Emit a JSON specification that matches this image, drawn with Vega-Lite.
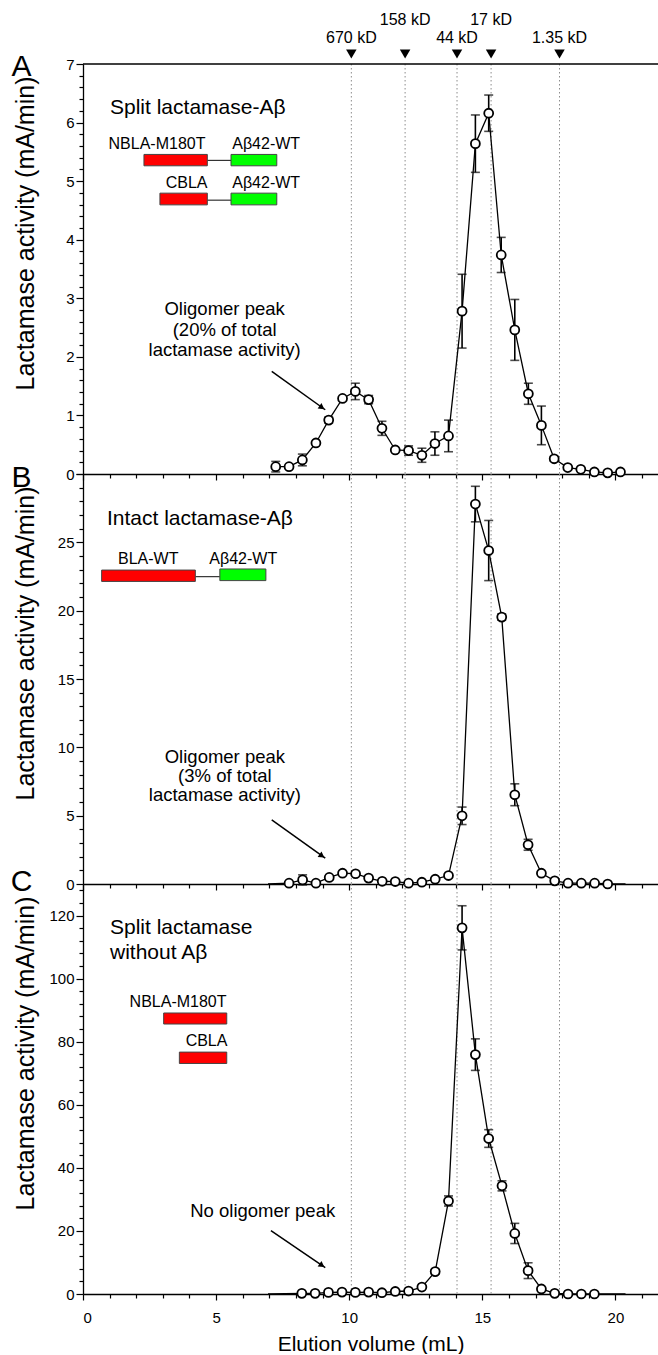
{
"$schema": "https://vega.github.io/schema/vega-lite/v6.json",
"background": "white",
"padding": {"left": 10, "top": 11, "right": 0, "bottom": 0},
"spacing": 0,
"bounds": "flush",
"config": {
  "font": "Liberation Sans",
  "view": {"stroke": null},
  "axis": {"domainColor": "black", "tickColor": "black", "labelColor": "black", "titleColor": "black", "domainWidth": 1.3, "tickWidth": 1.2, "labelFontSize": 15, "titleFontWeight": "normal", "grid": false, "labelOverlap": false, "labelFont": "Liberation Sans", "titleFont": "Liberation Sans"},
  "text": {"color": "black", "font": "Liberation Sans"}
},
"datasets": {
  "mw": [
    {"x": 10.08, "label": "670 kD", "ly": 7.359},
    {"x": 12.1, "label": "158 kD", "ly": 7.667},
    {"x": 14.05, "label": "44 kD", "ly": 7.359},
    {"x": 15.33, "label": "17 kD", "ly": 7.667},
    {"x": 17.9, "label": "1.35 kD", "ly": 7.359}
  ],
  "a": [
    {"x": 7.24, "y": 0.125, "lo": 0.035, "hi": 0.215},
    {"x": 7.74, "y": 0.125},
    {"x": 8.24, "y": 0.24, "lo": 0.14, "hi": 0.34},
    {"x": 8.75, "y": 0.53},
    {"x": 9.23, "y": 0.92, "lo": 0.87, "hi": 0.97},
    {"x": 9.75, "y": 1.29},
    {"x": 10.23, "y": 1.41, "lo": 1.27, "hi": 1.55},
    {"x": 10.73, "y": 1.27, "lo": 1.2, "hi": 1.34},
    {"x": 11.23, "y": 0.78, "lo": 0.66, "hi": 0.9},
    {"x": 11.73, "y": 0.41},
    {"x": 12.23, "y": 0.4, "lo": 0.32, "hi": 0.48},
    {"x": 12.73, "y": 0.32, "lo": 0.2, "hi": 0.44},
    {"x": 13.22, "y": 0.52, "lo": 0.32, "hi": 0.72},
    {"x": 13.73, "y": 0.65, "lo": 0.38, "hi": 0.92},
    {"x": 14.24, "y": 2.78, "lo": 2.15, "hi": 3.41},
    {"x": 14.74, "y": 5.64, "lo": 5.15, "hi": 6.13},
    {"x": 15.24, "y": 6.16, "lo": 5.85, "hi": 6.47},
    {"x": 15.71, "y": 3.74, "lo": 3.44, "hi": 4.04},
    {"x": 16.22, "y": 2.46, "lo": 1.94, "hi": 2.98},
    {"x": 16.73, "y": 1.37, "lo": 1.19, "hi": 1.55},
    {"x": 17.22, "y": 0.83, "lo": 0.5, "hi": 1.16},
    {"x": 17.7, "y": 0.26, "lo": 0.22, "hi": 0.3},
    {"x": 18.21, "y": 0.11},
    {"x": 18.7, "y": 0.08},
    {"x": 19.21, "y": 0.035},
    {"x": 19.71, "y": 0.02},
    {"x": 20.19, "y": 0.035}
  ],
  "b": [
    {"x": 6.95, "y": 0, "end": true},
    {"x": 7.74, "y": 0.06},
    {"x": 8.25, "y": 0.3, "lo": -0.07, "hi": 0.67},
    {"x": 8.75, "y": 0.06},
    {"x": 9.25, "y": 0.48},
    {"x": 9.75, "y": 0.79},
    {"x": 10.24, "y": 0.75},
    {"x": 10.73, "y": 0.43},
    {"x": 11.24, "y": 0.2},
    {"x": 11.73, "y": 0.18},
    {"x": 12.23, "y": 0.06},
    {"x": 12.73, "y": 0.13},
    {"x": 13.23, "y": 0.35},
    {"x": 13.73, "y": 0.62},
    {"x": 14.24, "y": 4.99, "lo": 4.35, "hi": 5.63},
    {"x": 14.74, "y": 27.8, "lo": 26.5, "hi": 29.1},
    {"x": 15.24, "y": 24.4, "lo": 22.2, "hi": 26.6},
    {"x": 15.73, "y": 19.53, "lo": 19.3, "hi": 19.76},
    {"x": 16.22, "y": 6.53, "lo": 5.73, "hi": 7.33},
    {"x": 16.72, "y": 2.87, "lo": 2.47, "hi": 3.27},
    {"x": 17.22, "y": 0.79},
    {"x": 17.72, "y": 0.23},
    {"x": 18.22, "y": 0.06},
    {"x": 18.72, "y": 0.06},
    {"x": 19.22, "y": 0.06},
    {"x": 19.71, "y": 0},
    {"x": 20.38, "y": 0, "end": true}
  ],
  "c": [
    {"x": 6.95, "y": 0, "end": true},
    {"x": 8.22, "y": 0.2},
    {"x": 8.72, "y": 0.2},
    {"x": 9.22, "y": 0.5},
    {"x": 9.73, "y": 0.6},
    {"x": 10.23, "y": 0.5},
    {"x": 10.73, "y": 0.6},
    {"x": 11.23, "y": 0.4},
    {"x": 11.73, "y": 0.8},
    {"x": 12.23, "y": 0.95},
    {"x": 12.73, "y": 2.2},
    {"x": 13.23, "y": 7.1, "lo": 6.4, "hi": 7.8},
    {"x": 13.73, "y": 29.5, "lo": 27.9, "hi": 31.1},
    {"x": 14.24, "y": 116.1, "lo": 109.1, "hi": 123.1},
    {"x": 14.74, "y": 75.9, "lo": 70.9, "hi": 80.9},
    {"x": 15.24, "y": 49.3, "lo": 46.5, "hi": 52.1},
    {"x": 15.74, "y": 34.3, "lo": 32.7, "hi": 35.9},
    {"x": 16.22, "y": 19.2, "lo": 16.0, "hi": 22.4},
    {"x": 16.72, "y": 7.4, "lo": 4.9, "hi": 9.9},
    {"x": 17.22, "y": 1.6},
    {"x": 17.72, "y": 0.2},
    {"x": 18.22, "y": 0},
    {"x": 18.72, "y": 0},
    {"x": 19.21, "y": 0},
    {"x": 20.38, "y": 0, "end": true}
  ],
  "a_title": [{"x": 1.015, "y": 6.145, "t": "Split lactamase-Aβ"}],
  "a_lab": [
    {"x": 2.78, "y": 5.547, "t": "NBLA-M180T"},
    {"x": 3.89, "y": 4.88, "t": "CBLA"},
    {"x": 6.88, "y": 5.547, "t": "Aβ42-WT"},
    {"x": 6.88, "y": 4.88, "t": "Aβ42-WT"}
  ],
  "a_box": [
    {"x": 2.29, "x2": 4.67, "y": 5.262, "y2": 5.456, "c": "r"},
    {"x": 5.56, "x2": 7.28, "y": 5.262, "y2": 5.456, "c": "g"},
    {"x": 2.89, "x2": 4.67, "y": 4.595, "y2": 4.795, "c": "r"},
    {"x": 5.56, "x2": 7.28, "y": 4.595, "y2": 4.795, "c": "g"}
  ],
  "a_conn": [
    {"x": 4.67, "x2": 5.56, "y": 5.354},
    {"x": 4.67, "x2": 5.56, "y": 4.675}
  ],
  "a_olig": [
    {"x": 5.32, "y": 2.709, "t": "Oligomer peak"},
    {"x": 5.32, "y": 2.35, "t": "(20% of total"},
    {"x": 5.32, "y": 2.009, "t": "lactamase activity)"}
  ],
  "a_arrow": [{"x": 7.09, "y": 1.752, "x2": 9.1, "y2": 1.097}],
  "a_head": [{"x": 8.976, "y": 1.136}],
  "a_letter": [{"x": -2.31, "y": 6.795, "t": "A"}],
  "b_title": [{"x": 0.9, "y": 26.3, "t": "Intact lactamase-Aβ"}],
  "b_lab": [
    {"x": 2.45, "y": 23.39, "t": "BLA-WT"},
    {"x": 6.02, "y": 23.39, "t": "Aβ42-WT"}
  ],
  "b_box": [
    {"x": 0.7, "x2": 4.22, "y": 22.14, "y2": 22.97, "c": "r"},
    {"x": 5.14, "x2": 6.87, "y": 22.2, "y2": 23.05, "c": "g"}
  ],
  "b_conn": [{"x": 4.22, "x2": 5.14, "y": 22.49}],
  "b_olig": [
    {"x": 5.33, "y": 8.89, "t": "Oligomer peak"},
    {"x": 5.33, "y": 7.43, "t": "(3% of total"},
    {"x": 5.33, "y": 6.04, "t": "lactamase activity)"}
  ],
  "b_arrow": [{"x": 7.09, "y": 4.7, "x2": 9.1, "y2": 1.89}],
  "b_head": [{"x": 8.976, "y": 2.06}],
  "b_letter": [{"x": -2.31, "y": 29.03, "t": "B"}],
  "c_title": [
    {"x": 1.015, "y": 114.3, "t": "Split lactamase"},
    {"x": 1.015, "y": 106.3, "t": "without Aβ"}
  ],
  "c_lab": [
    {"x": 3.57, "y": 90.9, "t": "NBLA-M180T"},
    {"x": 4.64, "y": 78.5, "t": "CBLA"}
  ],
  "c_box": [
    {"x": 3.03, "x2": 5.4, "y": 85.6, "y2": 89.1, "c": "r"},
    {"x": 3.62, "x2": 5.4, "y": 73.1, "y2": 76.7, "c": "r"}
  ],
  "c_olig": [{"x": 6.75, "y": 24.3, "t": "No oligomer peak"}],
  "c_arrow": [{"x": 7.06, "y": 20.1, "x2": 9.1, "y2": 8.35}],
  "c_head": [{"x": 8.976, "y": 9.08}],
  "c_letter": [{"x": -2.31, "y": 127.7, "t": "C"}]
},
"vconcat": [
  {
    "width": 575, "height": 410,
    "resolve": {"axis": {"x": "independent", "y": "independent"}},
    "layer": [
      {"data": {"name": "mw"}, "mark": {"type": "rule", "color": "#8c8c8c", "strokeDash": [1.5, 2.5], "strokeWidth": 1},
       "encoding": {"x": {"field": "x", "type": "quantitative", "scale": {"domain": [0, 21.6], "nice": false, "zero": false},
         "axis": {"orient": "bottom", "values": [0,1,2,3,4,5,6,7,8,9,10,11,12,13,14,15,16,17,18,19,20,21], "labels": false, "title": null, "tickSize": {"condition": {"test": "datum.value % 5 === 0", "value": 6}, "value": 4}}}}},
      {"data": {"values": [{}]}, "mark": {"type": "rule", "color": "black", "strokeWidth": 1.3},
       "encoding": {"y": {"datum": 7, "type": "quantitative", "scale": {"domain": [0, 7], "nice": false, "zero": false}, "axis": null}}},
      {"data": {"name": "a"}, "mark": {"type": "line", "color": "black", "strokeWidth": 1.3},
       "encoding": {"x": {"field": "x", "type": "quantitative", "scale": {"domain": [0, 21.6], "nice": false, "zero": false}, "axis": null},
         "y": {"field": "y", "type": "quantitative", "scale": {"domain": [0, 7], "nice": false, "zero": false},
           "axis": {"orient": "left", "values": [0,0.2,0.4,0.6,0.8,1,1.2,1.4,1.6,1.8,2,2.2,2.4,2.6,2.8,3,3.2,3.4,3.6,3.8,4,4.2,4.4,4.6,4.8,5,5.2,5.4,5.6,5.8,6,6.2,6.4,6.6,6.8,7],
             "labelExpr": "datum.value % 1 === 0 ? '' + datum.value : ''", "tickSize": {"condition": {"test": "datum.value % 1 === 0", "value": 7}, "value": 4},
             "labelPadding": 2, "title": "Lactamase activity (mA/min)", "titleFontSize": 25, "titleX": -50, "titleY": 169, "titleBaseline": "alphabetic", "titleAlign": "center", "titleAngle": 270}}}},
      {"data": {"name": "a"}, "transform": [{"filter": "isValid(datum.lo)"}],
       "mark": {"type": "errorbar", "color": "black", "thickness": 1.6, "ticks": {"size": 9, "thickness": 1.6, "color": "black"}},
       "encoding": {"x": {"field": "x", "type": "quantitative", "axis": null},
         "y": {"field": "lo", "type": "quantitative", "axis": null}, "y2": {"field": "hi"}}},
      {"data": {"name": "a"}, "mark": {"type": "point", "shape": "circle", "filled": true, "fill": "white", "stroke": "black", "strokeWidth": 1.8, "size": 80, "opacity": 1},
       "encoding": {"x": {"field": "x", "type": "quantitative", "axis": null}, "y": {"field": "y", "type": "quantitative", "axis": null}}},
      {"data": {"name": "mw"}, "mark": {"type": "point", "shape": "triangle-down", "filled": true, "color": "black", "size": 110, "opacity": 1},
       "encoding": {"x": {"field": "x", "type": "quantitative", "axis": null}, "y": {"datum": 7.17, "type": "quantitative", "axis": null}}},
      {"data": {"name": "mw"}, "mark": {"type": "text", "fontSize": 16, "align": "center", "baseline": "alphabetic"},
       "encoding": {"x": {"field": "x", "type": "quantitative", "axis": null}, "y": {"field": "ly", "type": "quantitative", "axis": null}, "text": {"field": "label"}}},
      {"data": {"name": "a_title"}, "mark": {"type": "text", "fontSize": 21, "align": "left", "baseline": "alphabetic"},
       "encoding": {"x": {"field": "x", "type": "quantitative", "axis": null}, "y": {"field": "y", "type": "quantitative", "axis": null}, "text": {"field": "t"}}},
      {"data": {"name": "a_lab"}, "mark": {"type": "text", "fontSize": 16, "align": "center", "baseline": "alphabetic"},
       "encoding": {"x": {"field": "x", "type": "quantitative", "axis": null}, "y": {"field": "y", "type": "quantitative", "axis": null}, "text": {"field": "t"}}},
      {"data": {"name": "a_conn"}, "mark": {"type": "rule", "color": "#333333", "strokeWidth": 1.2},
       "encoding": {"x": {"field": "x", "type": "quantitative", "axis": null}, "x2": {"field": "x2"}, "y": {"field": "y", "type": "quantitative", "axis": null}}},
      {"data": {"name": "a_box"}, "mark": {"type": "rect", "stroke": "#444444", "strokeWidth": 1},
       "encoding": {"x": {"field": "x", "type": "quantitative", "axis": null}, "x2": {"field": "x2"}, "y": {"field": "y", "type": "quantitative", "axis": null}, "y2": {"field": "y2"},
         "fill": {"field": "c", "type": "nominal", "scale": {"domain": ["r", "g"], "range": ["#ff0000", "#00ff00"]}, "legend": null}}},
      {"data": {"name": "a_olig"}, "mark": {"type": "text", "fontSize": 18.5, "align": "center", "baseline": "alphabetic"},
       "encoding": {"x": {"field": "x", "type": "quantitative", "axis": null}, "y": {"field": "y", "type": "quantitative", "axis": null}, "text": {"field": "t"}}},
      {"data": {"name": "a_arrow"}, "mark": {"type": "rule", "color": "black", "strokeWidth": 1.5},
       "encoding": {"x": {"field": "x", "type": "quantitative", "axis": null}, "x2": {"field": "x2"}, "y": {"field": "y", "type": "quantitative", "axis": null}, "y2": {"field": "y2"}}},
      {"data": {"name": "a_head"}, "mark": {"type": "point", "shape": "triangle-up", "angle": 125, "filled": true, "color": "black", "size": 45, "opacity": 1},
       "encoding": {"x": {"field": "x", "type": "quantitative", "axis": null}, "y": {"field": "y", "type": "quantitative", "axis": null}}},
      {"data": {"name": "a_letter"}, "mark": {"type": "text", "fontSize": 30, "align": "center", "baseline": "alphabetic"},
       "encoding": {"x": {"field": "x", "type": "quantitative", "axis": null}, "y": {"field": "y", "type": "quantitative", "axis": null}, "text": {"field": "t"}}}
    ]
  },
  {
    "width": 575, "height": 410,
    "resolve": {"axis": {"x": "independent", "y": "independent"}},
    "layer": [
      {"data": {"name": "mw"}, "mark": {"type": "rule", "color": "#8c8c8c", "strokeDash": [1.5, 2.5], "strokeWidth": 1},
       "encoding": {"x": {"field": "x", "type": "quantitative", "scale": {"domain": [0, 21.6], "nice": false, "zero": false},
         "axis": {"orient": "bottom", "values": [0,1,2,3,4,5,6,7,8,9,10,11,12,13,14,15,16,17,18,19,20,21], "labels": false, "title": null, "tickSize": {"condition": {"test": "datum.value % 5 === 0", "value": 6}, "value": 4}}}}},
      {"data": {"name": "b"}, "mark": {"type": "line", "color": "black", "strokeWidth": 1.3},
       "encoding": {"x": {"field": "x", "type": "quantitative", "scale": {"domain": [0, 21.6], "nice": false, "zero": false}, "axis": null},
         "y": {"field": "y", "type": "quantitative", "scale": {"domain": [0, 30], "nice": false, "zero": false},
           "axis": {"orient": "left", "values": [0,1,2,3,4,5,6,7,8,9,10,11,12,13,14,15,16,17,18,19,20,21,22,23,24,25,26,27,28,29,30],
             "labelExpr": "datum.value % 5 === 0 && datum.value < 30 ? '' + datum.value : ''", "tickSize": {"condition": {"test": "datum.value % 5 === 0", "value": 7}, "value": 4},
             "labelPadding": 2, "title": "Lactamase activity (mA/min)", "titleFontSize": 25, "titleX": -50, "titleY": 169, "titleBaseline": "alphabetic", "titleAlign": "center", "titleAngle": 270}}}},
      {"data": {"name": "b"}, "transform": [{"filter": "isValid(datum.lo)"}],
       "mark": {"type": "errorbar", "color": "black", "thickness": 1.6, "ticks": {"size": 9, "thickness": 1.6, "color": "black"}},
       "encoding": {"x": {"field": "x", "type": "quantitative", "axis": null},
         "y": {"field": "lo", "type": "quantitative", "axis": null}, "y2": {"field": "hi"}}},
      {"data": {"name": "b"}, "transform": [{"filter": "!datum.end"}], "mark": {"type": "point", "shape": "circle", "filled": true, "fill": "white", "stroke": "black", "strokeWidth": 1.8, "size": 80, "opacity": 1},
       "encoding": {"x": {"field": "x", "type": "quantitative", "axis": null}, "y": {"field": "y", "type": "quantitative", "axis": null}}},
      {"data": {"name": "b_title"}, "mark": {"type": "text", "fontSize": 21, "align": "left", "baseline": "alphabetic"},
       "encoding": {"x": {"field": "x", "type": "quantitative", "axis": null}, "y": {"field": "y", "type": "quantitative", "axis": null}, "text": {"field": "t"}}},
      {"data": {"name": "b_lab"}, "mark": {"type": "text", "fontSize": 16, "align": "center", "baseline": "alphabetic"},
       "encoding": {"x": {"field": "x", "type": "quantitative", "axis": null}, "y": {"field": "y", "type": "quantitative", "axis": null}, "text": {"field": "t"}}},
      {"data": {"name": "b_conn"}, "mark": {"type": "rule", "color": "#333333", "strokeWidth": 1.2},
       "encoding": {"x": {"field": "x", "type": "quantitative", "axis": null}, "x2": {"field": "x2"}, "y": {"field": "y", "type": "quantitative", "axis": null}}},
      {"data": {"name": "b_box"}, "mark": {"type": "rect", "stroke": "#444444", "strokeWidth": 1},
       "encoding": {"x": {"field": "x", "type": "quantitative", "axis": null}, "x2": {"field": "x2"}, "y": {"field": "y", "type": "quantitative", "axis": null}, "y2": {"field": "y2"},
         "fill": {"field": "c", "type": "nominal", "scale": {"domain": ["r", "g"], "range": ["#ff0000", "#00ff00"]}, "legend": null}}},
      {"data": {"name": "b_olig"}, "mark": {"type": "text", "fontSize": 18.5, "align": "center", "baseline": "alphabetic"},
       "encoding": {"x": {"field": "x", "type": "quantitative", "axis": null}, "y": {"field": "y", "type": "quantitative", "axis": null}, "text": {"field": "t"}}},
      {"data": {"name": "b_arrow"}, "mark": {"type": "rule", "color": "black", "strokeWidth": 1.5},
       "encoding": {"x": {"field": "x", "type": "quantitative", "axis": null}, "x2": {"field": "x2"}, "y": {"field": "y", "type": "quantitative", "axis": null}, "y2": {"field": "y2"}}},
      {"data": {"name": "b_head"}, "mark": {"type": "point", "shape": "triangle-up", "angle": 125, "filled": true, "color": "black", "size": 45, "opacity": 1},
       "encoding": {"x": {"field": "x", "type": "quantitative", "axis": null}, "y": {"field": "y", "type": "quantitative", "axis": null}}},
      {"data": {"name": "b_letter"}, "mark": {"type": "text", "fontSize": 30, "align": "center", "baseline": "alphabetic"},
       "encoding": {"x": {"field": "x", "type": "quantitative", "axis": null}, "y": {"field": "y", "type": "quantitative", "axis": null}, "text": {"field": "t"}}}
    ]
  },
  {
    "width": 575, "height": 410,
    "resolve": {"axis": {"x": "independent", "y": "independent"}},
    "layer": [
      {"data": {"name": "mw"}, "mark": {"type": "rule", "color": "#8c8c8c", "strokeDash": [1.5, 2.5], "strokeWidth": 1},
       "encoding": {"x": {"field": "x", "type": "quantitative", "scale": {"domain": [0, 21.6], "nice": false, "zero": false},
         "axis": {"orient": "bottom", "values": [0,1,2,3,4,5,6,7,8,9,10,11,12,13,14,15,16,17,18,19,20,21], "labelExpr": "datum.value % 5 === 0 ? '' + datum.value : ''", "labelPadding": 10, "labelFontSize": 15,
           "title": "Elution volume (mL)", "titleFontSize": 21, "titlePadding": 8, "tickSize": {"condition": {"test": "datum.value % 5 === 0", "value": 6}, "value": 4}}}}},
      {"data": {"name": "c"}, "mark": {"type": "line", "color": "black", "strokeWidth": 1.3},
       "encoding": {"x": {"field": "x", "type": "quantitative", "scale": {"domain": [0, 21.6], "nice": false, "zero": false}, "axis": null},
         "y": {"field": "y", "type": "quantitative", "scale": {"domain": [0, 130], "nice": false, "zero": false},
           "axis": {"orient": "left", "values": [0,4,8,12,16,20,24,28,32,36,40,44,48,52,56,60,64,68,72,76,80,84,88,92,96,100,104,108,112,116,120,124,128],
             "labelExpr": "datum.value % 20 === 0 ? '' + datum.value : ''", "tickSize": {"condition": {"test": "datum.value % 20 === 0", "value": 7}, "value": 4},
             "labelPadding": 2, "title": "Lactamase activity (mA/min)", "titleFontSize": 25, "titleX": -50, "titleY": 169, "titleBaseline": "alphabetic", "titleAlign": "center", "titleAngle": 270}}}},
      {"data": {"name": "c"}, "transform": [{"filter": "isValid(datum.lo)"}],
       "mark": {"type": "errorbar", "color": "black", "thickness": 1.6, "ticks": {"size": 9, "thickness": 1.6, "color": "black"}},
       "encoding": {"x": {"field": "x", "type": "quantitative", "axis": null},
         "y": {"field": "lo", "type": "quantitative", "axis": null}, "y2": {"field": "hi"}}},
      {"data": {"name": "c"}, "transform": [{"filter": "!datum.end"}], "mark": {"type": "point", "shape": "circle", "filled": true, "fill": "white", "stroke": "black", "strokeWidth": 1.8, "size": 80, "opacity": 1},
       "encoding": {"x": {"field": "x", "type": "quantitative", "axis": null}, "y": {"field": "y", "type": "quantitative", "axis": null}}},
      {"data": {"name": "c_title"}, "mark": {"type": "text", "fontSize": 21, "align": "left", "baseline": "alphabetic"},
       "encoding": {"x": {"field": "x", "type": "quantitative", "axis": null}, "y": {"field": "y", "type": "quantitative", "axis": null}, "text": {"field": "t"}}},
      {"data": {"name": "c_lab"}, "mark": {"type": "text", "fontSize": 16, "align": "center", "baseline": "alphabetic"},
       "encoding": {"x": {"field": "x", "type": "quantitative", "axis": null}, "y": {"field": "y", "type": "quantitative", "axis": null}, "text": {"field": "t"}}},
      {"data": {"name": "c_box"}, "mark": {"type": "rect", "stroke": "#444444", "strokeWidth": 1},
       "encoding": {"x": {"field": "x", "type": "quantitative", "axis": null}, "x2": {"field": "x2"}, "y": {"field": "y", "type": "quantitative", "axis": null}, "y2": {"field": "y2"},
         "fill": {"field": "c", "type": "nominal", "scale": {"domain": ["r", "g"], "range": ["#ff0000", "#00ff00"]}, "legend": null}}},
      {"data": {"name": "c_olig"}, "mark": {"type": "text", "fontSize": 18.5, "align": "center", "baseline": "alphabetic"},
       "encoding": {"x": {"field": "x", "type": "quantitative", "axis": null}, "y": {"field": "y", "type": "quantitative", "axis": null}, "text": {"field": "t"}}},
      {"data": {"name": "c_arrow"}, "mark": {"type": "rule", "color": "black", "strokeWidth": 1.5},
       "encoding": {"x": {"field": "x", "type": "quantitative", "axis": null}, "x2": {"field": "x2"}, "y": {"field": "y", "type": "quantitative", "axis": null}, "y2": {"field": "y2"}}},
      {"data": {"name": "c_head"}, "mark": {"type": "point", "shape": "triangle-up", "angle": 125, "filled": true, "color": "black", "size": 45, "opacity": 1},
       "encoding": {"x": {"field": "x", "type": "quantitative", "axis": null}, "y": {"field": "y", "type": "quantitative", "axis": null}}},
      {"data": {"name": "c_letter"}, "mark": {"type": "text", "fontSize": 30, "align": "center", "baseline": "alphabetic"},
       "encoding": {"x": {"field": "x", "type": "quantitative", "axis": null}, "y": {"field": "y", "type": "quantitative", "axis": null}, "text": {"field": "t"}}}
    ]
  }
]
}
